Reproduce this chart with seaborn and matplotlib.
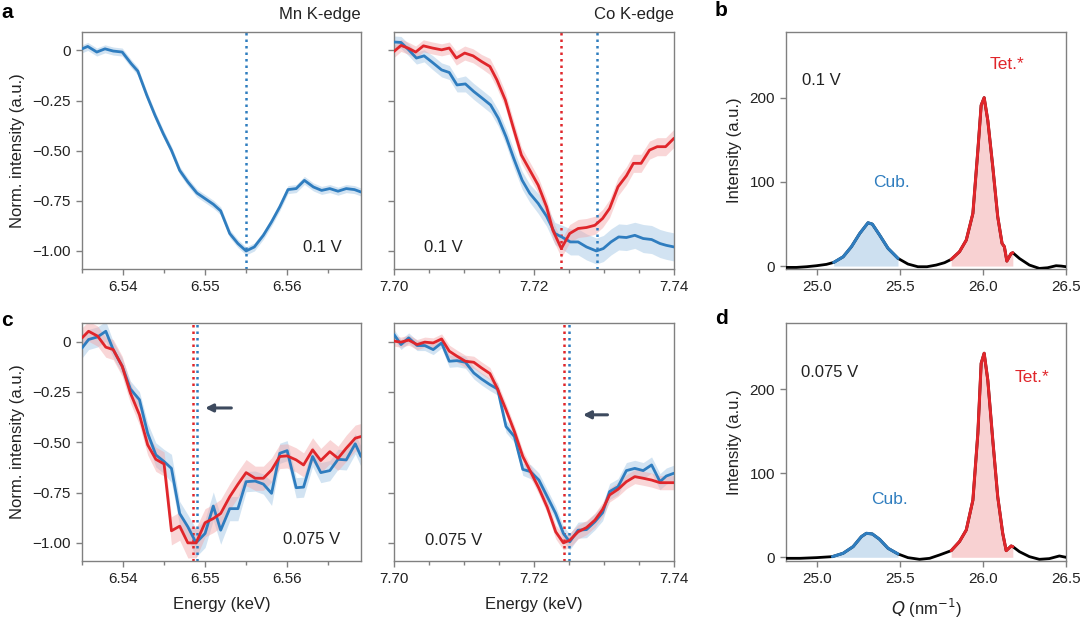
import numpy as np
import pandas as pd
import matplotlib
matplotlib.use("Agg")
import matplotlib.pyplot as plt
import seaborn as sns

sns.set_theme(style="ticks")
plt.rcParams['font.family'] = ['Liberation Sans', 'DejaVu Sans']

BLUE = "#2f7dbf"
RED = "#e0262b"
BLUE_F = "#9cc3e3"
RED_F = "#f2a5a7"

# ---------------- data: Mn K-edge, 0.1 V ----------------
mn1_e = [6.5350, 6.5357, 6.5368, 6.5378, 6.5388, 6.5399, 6.5410, 6.5418, 6.5429, 6.5439,
         6.5449, 6.5459, 6.5469, 6.5479, 6.5490, 6.5500, 6.5510, 6.5519, 6.5530, 6.5540,
         6.5550, 6.5560, 6.5571, 6.5581, 6.5591, 6.5601, 6.5611, 6.5621, 6.5632, 6.5642,
         6.5652, 6.5662, 6.5672, 6.5682, 6.5690]
mn1_blue = [0.008, 0.02, -0.008, 0.008, -0.003, -0.008, -0.066, -0.103, -0.224, -0.324,
            -0.415, -0.498, -0.598, -0.656, -0.711, -0.739, -0.767, -0.80, -0.913, -0.963,
            -1.0, -0.98, -0.922, -0.855, -0.78, -0.694, -0.689, -0.648, -0.681, -0.698,
            -0.689, -0.702, -0.689, -0.694, -0.706]
mn1_blue_err = [0.02, 0.02, 0.02, 0.02, 0.02, 0.02, 0.02, 0.02, 0.02, 0.02,
                0.02, 0.02, 0.02, 0.02, 0.02, 0.02, 0.02, 0.02, 0.02, 0.02,
                0.02, 0.02, 0.02, 0.02, 0.02, 0.02, 0.02, 0.02, 0.02, 0.02,
                0.02, 0.02, 0.02, 0.02, 0.02]

# ---------------- data: Co K-edge, 0.1 V ----------------
co1_e_red = [7.7000, 7.7010, 7.7020, 7.7031, 7.7042, 7.7055, 7.7068, 7.7079, 7.7089, 7.7101,
             7.7113, 7.7125, 7.7137, 7.7147, 7.7159, 7.7170, 7.7182, 7.7194, 7.7206, 7.7218,
             7.7227, 7.7239, 7.7251, 7.7263, 7.7275, 7.7287, 7.7298, 7.7308, 7.7320, 7.7332,
             7.7342, 7.7353, 7.7365, 7.7376, 7.7388, 7.7400]
co1_red = [-0.005, 0.025, 0.012, -0.008, 0.023, 0.012, 0.003, 0.012, -0.038, -0.013,
           -0.027, -0.055, -0.08, -0.147, -0.247, -0.38, -0.522, -0.597, -0.672, -0.78,
           -0.897, -0.988, -0.913, -0.888, -0.883, -0.872, -0.838, -0.788, -0.68, -0.625,
           -0.563, -0.563, -0.497, -0.48, -0.48, -0.438]
co1_red_err = [0.03, 0.03, 0.03, 0.03, 0.03, 0.03, 0.03, 0.03, 0.035, 0.035,
               0.035, 0.035, 0.04, 0.04, 0.04, 0.04, 0.04, 0.04, 0.04, 0.04,
               0.045, 0.045, 0.045, 0.045, 0.045, 0.045, 0.045, 0.045, 0.045, 0.045,
               0.045, 0.045, 0.045, 0.045, 0.045, 0.045]
co1_e_blue = [7.7000, 7.7010, 7.7021, 7.7032, 7.7043, 7.7055, 7.7068, 7.7079, 7.7090, 7.7102,
              7.7114, 7.7126, 7.7138, 7.7149, 7.7160, 7.7171, 7.7183, 7.7194, 7.7206, 7.7218,
              7.7230, 7.7241, 7.7252, 7.7263, 7.7275, 7.7289, 7.7299, 7.7310, 7.7321, 7.7332,
              7.7344, 7.7356, 7.7368, 7.7380, 7.7389, 7.7400]
co1_blue = [0.042, 0.04, 0.003, -0.038, -0.027, -0.06, -0.097, -0.11, -0.172, -0.167,
            -0.205, -0.238, -0.272, -0.338, -0.43, -0.538, -0.647, -0.713, -0.763, -0.827,
            -0.913, -0.933, -0.955, -0.955, -0.98, -1.0, -0.988, -0.955, -0.93, -0.933,
            -0.922, -0.938, -0.943, -0.963, -0.972, -0.98]
co1_blue_err = [0.03, 0.03, 0.03, 0.03, 0.03, 0.035, 0.035, 0.035, 0.035, 0.04,
                0.04, 0.04, 0.04, 0.04, 0.04, 0.045, 0.045, 0.045, 0.05, 0.05,
                0.055, 0.06, 0.065, 0.065, 0.065, 0.065, 0.065, 0.065, 0.065, 0.065,
                0.065, 0.07, 0.07, 0.07, 0.07, 0.07]

# ---------------- data: Mn K-edge, 0.075 V ----------------
mn2_e = [6.5350, 6.5358, 6.5369, 6.5379, 6.5388, 6.5399, 6.5409, 6.5420, 6.5430, 6.5440,
         6.5450, 6.5459, 6.5469, 6.5479, 6.5489, 6.5500, 6.5510, 6.5519, 6.5530, 6.5540,
         6.5550, 6.5561, 6.5571, 6.5581, 6.5591, 6.5600, 6.5611, 6.5620, 6.5631, 6.5641,
         6.5652, 6.5662, 6.5672, 6.5683, 6.5690]
mn2_red = [0.018, 0.051, 0.027, -0.028, -0.04, -0.123, -0.256, -0.364, -0.513, -0.585,
           -0.608, -0.94, -0.917, -1.0, -1.0, -0.9, -0.879, -0.854, -0.771, -0.709,
           -0.651, -0.679, -0.679, -0.638, -0.571, -0.568, -0.588, -0.613, -0.538, -0.591,
           -0.547, -0.58, -0.53, -0.48, -0.472]
mn2_red_err = [0.05, 0.05, 0.05, 0.05, 0.05, 0.05, 0.05, 0.05, 0.05, 0.06,
               0.06, 0.07, 0.07, 0.075, 0.075, 0.07, 0.07, 0.07, 0.065, 0.065,
               0.065, 0.06, 0.06, 0.06, 0.06, 0.06, 0.06, 0.06, 0.06, 0.06,
               0.06, 0.06, 0.065, 0.065, 0.065]
mn2_blue = [-0.032, 0.01, 0.023, 0.051, -0.04, -0.123, -0.236, -0.289, -0.455, -0.563,
            -0.596, -0.63, -0.854, -0.92, -1.0, -0.953, -0.817, -0.937, -0.83, -0.83,
            -0.696, -0.693, -0.708, -0.754, -0.555, -0.542, -0.726, -0.723, -0.571, -0.651,
            -0.641, -0.585, -0.588, -0.508, -0.571]
mn2_blue_err = [0.05, 0.05, 0.05, 0.05, 0.04, 0.04, 0.04, 0.04, 0.05, 0.06,
                0.06, 0.07, 0.06, 0.06, 0.07, 0.07, 0.07, 0.07, 0.06, 0.06,
                0.05, 0.05, 0.05, 0.06, 0.05, 0.05, 0.05, 0.05, 0.05, 0.05,
                0.05, 0.05, 0.05, 0.05, 0.05]

# ---------------- data: Co K-edge, 0.075 V ----------------
co2_e = [7.7000, 7.7010, 7.7021, 7.7033, 7.7044, 7.7056, 7.7068, 7.7079, 7.7090, 7.7102,
         7.7114, 7.7125, 7.7137, 7.7148, 7.7160, 7.7172, 7.7184, 7.7195, 7.7207, 7.7219,
         7.7231, 7.7242, 7.7251, 7.7263, 7.7275, 7.7287, 7.7298, 7.7308, 7.7320, 7.7332,
         7.7344, 7.7356, 7.7368, 7.7380, 7.7389, 7.7400]
co2_red = [0.002, -0.003, 0.007, -0.015, -0.003, -0.007, 0.013, -0.048, -0.073, -0.098,
           -0.103, -0.131, -0.159, -0.236, -0.339, -0.447, -0.571, -0.646, -0.729, -0.824,
           -0.945, -1.0, -0.987, -0.945, -0.924, -0.887, -0.834, -0.762, -0.734, -0.696,
           -0.671, -0.679, -0.688, -0.701, -0.701, -0.701]
co2_red_err = [0.025, 0.025, 0.025, 0.025, 0.025, 0.025, 0.025, 0.03, 0.03, 0.03,
               0.03, 0.03, 0.03, 0.03, 0.03, 0.03, 0.03, 0.03, 0.03, 0.03,
               0.035, 0.035, 0.035, 0.035, 0.035, 0.035, 0.035, 0.035, 0.035, 0.035,
               0.035, 0.035, 0.035, 0.035, 0.035, 0.035]
co2_blue = [0.035, -0.015, 0.018, -0.02, -0.02, -0.04, -0.007, -0.098, -0.095, -0.103,
            -0.156, -0.186, -0.214, -0.236, -0.422, -0.472, -0.635, -0.646, -0.688, -0.771,
            -0.854, -0.953, -0.995, -0.937, -0.934, -0.895, -0.85, -0.745, -0.721, -0.641,
            -0.63, -0.641, -0.613, -0.696, -0.668, -0.654]
co2_blue_err = [0.025, 0.025, 0.025, 0.025, 0.025, 0.025, 0.025, 0.03, 0.03, 0.03,
                0.03, 0.03, 0.03, 0.03, 0.03, 0.03, 0.03, 0.035, 0.035, 0.035,
                0.035, 0.035, 0.04, 0.04, 0.04, 0.04, 0.04, 0.04, 0.04, 0.04,
                0.04, 0.04, 0.04, 0.04, 0.04, 0.04]

# edge-position markers
mn1_edge_blue = 6.5550
co1_edge_red = 7.7239
co1_edge_blue = 7.7290
mn2_edge_red = 6.5485
mn2_edge_blue = 6.5490
co2_edge_red = 7.72425
co2_edge_blue = 7.7250

# ---------------- data: XRD ----------------
q_b = [24.807, 24.873, 24.934, 24.994, 25.054, 25.098, 25.155, 25.205, 25.255, 25.305,
       25.331, 25.375, 25.426, 25.486, 25.546, 25.606, 25.661, 25.717, 25.767, 25.807,
       25.857, 25.898, 25.938, 25.968, 25.988, 26.006, 26.028, 26.058, 26.088, 26.114,
       26.128, 26.143, 26.169, 26.179, 26.219, 26.279, 26.339, 26.389, 26.440, 26.470, 26.500]
i_b = [-1.6, -1.6, -0.8, 0.4, 2.0, 4.3, 11.0, 23.0, 38.7, 51.4,
       49.8, 36.8, 21.0, 9.1, 2.4, -0.8, -0.8, 1.2, 4.0, 7.9,
       17.0, 30.8, 62.5, 137.5, 191.0, 200.0, 173.0, 118.0, 58.5, 26.9,
       23.0, 5.9, 15.0, 15.8, 9.0, 1.2, -2.8, -2.0, 0.4, 0.0, -0.8]
q_d = [24.807, 24.894, 24.994, 25.090, 25.155, 25.215, 25.265, 25.295, 25.331, 25.375,
       25.426, 25.486, 25.546, 25.616, 25.677, 25.737, 25.807, 25.857, 25.898, 25.938,
       25.968, 25.988, 26.006, 26.028, 26.058, 26.088, 26.118, 26.139, 26.169, 26.179,
       26.219, 26.279, 26.339, 26.399, 26.460, 26.500]
i_d = [-1.2, -1.2, -0.4, 0.8, 4.8, 12.7, 24.6, 28.6, 27.8, 21.4,
       10.7, 4.0, -0.4, -2.4, -1.2, 2.8, 7.9, 18.7, 32.5, 68.0,
       147.6, 231.0, 243.0, 211.0, 139.7, 72.0, 28.6, 7.9, 13.5, 12.7,
       6.7, 0.8, -2.4, -1.6, 1.6, 0.0]
cub_range = (25.09, 25.49)
tet_range = (25.80, 26.18)

# ---------------- figure ----------------
fig = plt.figure(figsize=(10.8, 6.2), dpi=100)
W, H = 1080, 620


def add_ax(x0, y0, x1, y1):
    return fig.add_axes([x0 / W, 1 - y1 / H, (x1 - x0) / W, (y1 - y0) / H])


ax_a1 = add_ax(82, 32, 361, 269)
ax_a2 = add_ax(394, 32, 674, 269)
ax_b = add_ax(786, 32, 1066, 269)
ax_c1 = add_ax(82, 323, 361, 561)
ax_c2 = add_ax(394, 323, 674, 561)
ax_d = add_ax(786, 323, 1066, 561)

SPINE = "#808080"
TXT = "#222222"


def style(ax):
    for s in ax.spines.values():
        s.set_color(SPINE)
        s.set_linewidth(1.0)
    ax.tick_params(axis='both', which='both', direction='out', color=SPINE,
                   labelcolor=TXT, labelsize=11, width=1.0)
    ax.tick_params(which='major', length=4.5)
    ax.tick_params(which='minor', length=3)


def xas(ax, e, y, err, color, fcolor):
    y = np.array(y)
    err = np.array(err)
    ax.fill_between(e, y - err, y + err, color=fcolor, alpha=0.45, lw=0, zorder=1)
    df = pd.DataFrame({"E": e, "I": y})
    sns.lineplot(data=df, x="E", y="I", ax=ax, color=color, lw=2.0, zorder=3,
                 estimator=None, sort=False)


def vline(ax, x, color):
    ax.axvline(x, color=color, lw=1.8, ls=(0, (1, 1.6)), zorder=2)


def xas_axes(ax, xlim, ticks, minor, labels, show_y):
    ax.set_xlim(*xlim)
    ax.set_ylim(-1.09, 0.092)
    ax.set_xticks(ticks)
    ax.set_xticklabels(labels)
    ax.set_xticks(minor, minor=True)
    ax.set_yticks([0, -0.25, -0.5, -0.75, -1.0])
    if show_y:
        ax.set_yticklabels(["0", "\u22120.25", "\u22120.50", "\u22120.75", "\u22121.00"])
        ax.set_ylabel("Norm. intensity (a.u.)", fontsize=12, color=TXT, labelpad=5)
    else:
        ax.set_yticklabels([])
        ax.set_ylabel("")
    ax.set_xlabel("")
    style(ax)


mn_ticks = [6.54, 6.55, 6.56]
mn_labels = ["6.54", "6.55", "6.56"]
mn_minor = [6.535, 6.545, 6.555, 6.565]
co_ticks = [7.70, 7.72, 7.74]
co_labels = ["7.70", "7.72", "7.74"]
co_minor = [7.705, 7.71, 7.715, 7.725, 7.73, 7.735]

# panel a
xas(ax_a1, mn1_e, mn1_blue, mn1_blue_err, BLUE, BLUE_F)
vline(ax_a1, mn1_edge_blue, BLUE)
xas_axes(ax_a1, (6.535, 6.569), mn_ticks, mn_minor, mn_labels, True)
ax_a1.text(0.86, 0.089, "0.1 V", transform=ax_a1.transAxes, ha='center', va='center',
           fontsize=12, color=TXT)

xas(ax_a2, co1_e_blue, co1_blue, co1_blue_err, BLUE, BLUE_F)
xas(ax_a2, co1_e_red, co1_red, co1_red_err, RED, RED_F)
vline(ax_a2, co1_edge_red, RED)
vline(ax_a2, co1_edge_blue, BLUE)
xas_axes(ax_a2, (7.70, 7.74), co_ticks, co_minor, co_labels, False)
ax_a2.text(0.175, 0.089, "0.1 V", transform=ax_a2.transAxes, ha='center', va='center',
           fontsize=12, color=TXT)

fig.text(361 / W, 1 - 15 / H, "Mn K-edge", ha='right', va='center', fontsize=12, color=TXT)
fig.text(674 / W, 1 - 15 / H, "Co K-edge", ha='right', va='center', fontsize=12, color=TXT)

# panel c
xas(ax_c1, mn2_e, mn2_blue, mn2_blue_err, BLUE, BLUE_F)
xas(ax_c1, mn2_e, mn2_red, mn2_red_err, RED, RED_F)
vline(ax_c1, mn2_edge_red, RED)
vline(ax_c1, mn2_edge_blue, BLUE)
xas_axes(ax_c1, (6.535, 6.569), mn_ticks, mn_minor, mn_labels, True)
ax_c1.text(0.824, 0.092, "0.075 V", transform=ax_c1.transAxes, ha='center', va='center',
           fontsize=12, color=TXT)
ax_c1.annotate("", xy=(6.5500, -0.33), xytext=(6.5532, -0.33),
               arrowprops=dict(arrowstyle='-|>', color='#3d4a5e', lw=2.2, mutation_scale=11,
                               shrinkA=0, shrinkB=0))
ax_c1.set_xlabel("Energy (keV)", fontsize=12, color=TXT, labelpad=8)

xas(ax_c2, co2_e, co2_blue, co2_blue_err, BLUE, BLUE_F)
xas(ax_c2, co2_e, co2_red, co2_red_err, RED, RED_F)
vline(ax_c2, co2_edge_red, RED)
vline(ax_c2, co2_edge_blue, BLUE)
xas_axes(ax_c2, (7.70, 7.74), co_ticks, co_minor, co_labels, False)
ax_c2.text(0.214, 0.088, "0.075 V", transform=ax_c2.transAxes, ha='center', va='center',
           fontsize=12, color=TXT)
ax_c2.annotate("", xy=(7.7270, -0.364), xytext=(7.7305, -0.364),
               arrowprops=dict(arrowstyle='-|>', color='#3d4a5e', lw=2.2, mutation_scale=11,
                               shrinkA=0, shrinkB=0))
ax_c2.set_xlabel("Energy (keV)", fontsize=12, color=TXT, labelpad=8)


# XRD panels
def xrd(ax, q, inten, ylim, label_v, pos_v, pos_tet, pos_cub):
    q = np.array(q)
    inten = np.array(inten)
    df = pd.DataFrame({"Q": q, "I": inten})
    sns.lineplot(data=df, x="Q", y="I", ax=ax, color="black", lw=2.0, zorder=3,
                 estimator=None, sort=False)
    for (lo, hi), c, fc in [(cub_range, BLUE, BLUE_F), (tet_range, RED, RED_F)]:
        m = (q >= lo - 1e-9) & (q <= hi + 0.001)
        ax.fill_between(q[m], 0, inten[m], color=fc, alpha=0.5, lw=0, zorder=1)
        sub = df[m]
        sns.lineplot(data=sub, x="Q", y="I", ax=ax, color=c, lw=2.2, zorder=4,
                     estimator=None, sort=False)
    ax.set_xlim(24.81, 26.5)
    ax.set_ylim(*ylim)
    ax.set_xticks([25.0, 25.5, 26.0, 26.5])
    ax.set_xticklabels(["25.0", "25.5", "26.0", "26.5"])
    ax.set_yticks([0, 100, 200])
    ax.set_yticklabels(["0", "100", "200"])
    ax.set_ylabel("Intensity (a.u.)", fontsize=12, color=TXT, labelpad=5)
    ax.set_xlabel("")
    style(ax)
    ax.text(pos_v[0], pos_v[1], label_v, transform=ax.transAxes, ha='left', va='center',
            fontsize=12, color=TXT)
    ax.text(pos_tet[0], pos_tet[1], "Tet.*", transform=ax.transAxes, ha='center',
            va='center', fontsize=12.5, color=RED)
    ax.text(pos_cub[0], pos_cub[1], "Cub.", transform=ax.transAxes, ha='center',
            va='center', fontsize=12.5, color=BLUE)


xrd(ax_b, q_b, i_b, (-3.5, 278), "0.1 V", (0.057, 0.797), (0.79, 0.861), (0.375, 0.363))
xrd(ax_d, q_d, i_d, (-4.4, 279), "0.075 V", (0.054, 0.791), (0.879, 0.772), (0.37, 0.26))
ax_d.set_xlabel("$\\it{Q}$ (nm$^{-1}$)", fontsize=12, color=TXT, labelpad=8)

# panel letters
for lab, x, y in [("a", 7, 12), ("b", 721, 11), ("c", 7, 320), ("d", 721, 319)]:
    fig.text(x / W, 1 - y / H, lab, fontsize=15, fontweight='bold', ha='center',
             va='center', color='black')

fig.savefig("out.png", dpi=100)
